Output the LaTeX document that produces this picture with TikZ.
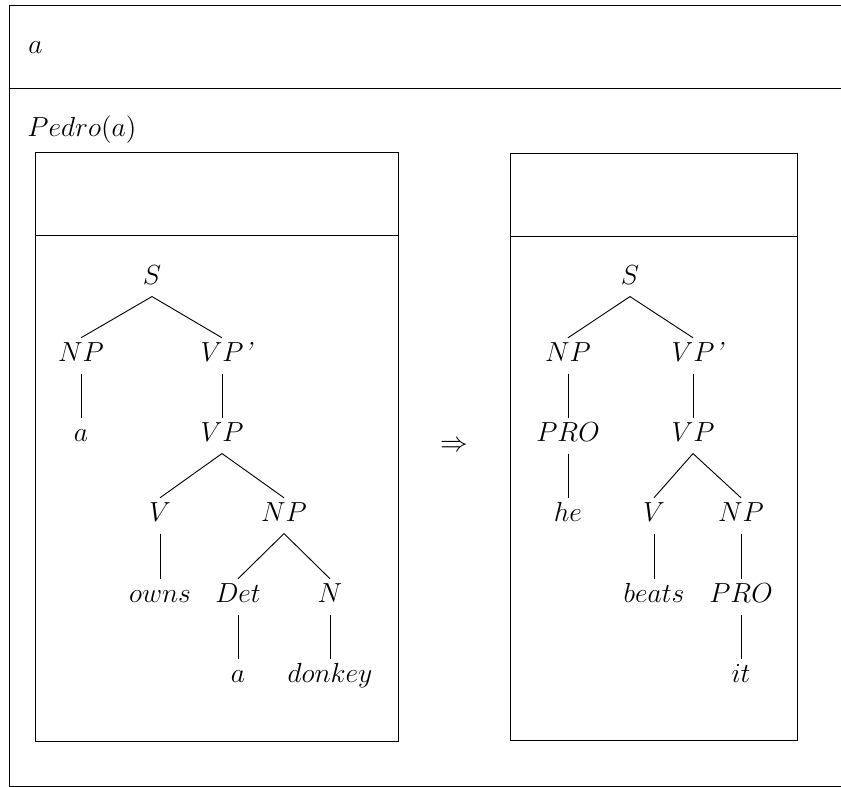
\documentclass[12pt,tikz,border=0pt]{standalone}
\usepackage{amsmath}
\usepackage{amssymb}
\usepackage{tikz}

\begin{document}
\begin{tikzpicture}[x=0.435pt,y=-0.435pt,
    tn/.style={anchor=base,inner sep=3.33pt,text height=7pt,text depth=1.5pt},
    lbl/.style={anchor=base west,inner sep=0pt}]
    \useasboundingbox (0,0) rectangle (841,787);
    % outer box, open on the right
    \draw (845,5) -- (9,5) -- (9,786) -- (845,786);
    \draw (9,88) -- (845,88);
    \node[lbl] (ref) at (28,54) {$a$};
    \node[lbl] (cond) at (27,137) {$Pedro(a)$};
    % the two inner boxes
    \draw (35,152) rectangle (398,741);
    \draw (35,235) -- (398,235);
    \draw (510,153) rectangle (797,740);
    \draw (510,236) -- (797,236);
    % left tree
    \node[tn] (ls) at (152,285) {$S$};
    \node[tn] (lnp) at (81,362) {$NP$};
    \node[tn] (lvpp) at (222,362) {$VP$\rlap{\textit{'}}};
    \node[tn] (la) at (81,442) {$a$};
    \node[tn] (lvp) at (222,442) {$VP$};
    \node[tn] (lv) at (160,522) {$V$};
    \node[tn] (lnpb) at (284,522) {$NP$};
    \node[tn] (lowns) at (160,603) {$owns$};
    \node[tn] (ldet) at (238,603) {$Det$};
    \node[tn] (ln) at (330,603) {$N$};
    \node[tn] (lab) at (238,683) {$a$};
    \node[tn] (ldonkey) at (330,683) {$donkey$};
    \foreach \a/\b in {ls/lnp,ls/lvpp,lnp/la,lvpp/lvp,lvp/lv,lvp/lnpb,lv/lowns,lnpb/ldet,lnpb/ln,ldet/lab,ln/ldonkey}
        \draw (\a.south) -- (\b.north);
    \node[anchor=base] (impl) at (454,452) {$\Rightarrow$};
    % right tree
    \node[tn] (rs) at (630,285) {$S$};
    \node[tn] (rnp) at (568,362) {$NP$};
    \node[tn] (rvpp) at (693,362) {$VP$\rlap{\textit{'}}};
    \node[tn] (rpro) at (568,442) {$PRO$};
    \node[tn] (rvp) at (693,442) {$VP$};
    \node[tn] (rhe) at (568,522) {$he$};
    \node[tn] (rv) at (654,522) {$V$};
    \node[tn] (rnpb) at (741,522) {$NP$};
    \node[tn] (rbeats) at (654,603) {$beats$};
    \node[tn] (rprob) at (741,603) {$PRO$};
    \node[tn] (rit) at (741,683) {$it$};
    \foreach \a/\b in {rs/rnp,rs/rvpp,rnp/rpro,rpro/rhe,rvpp/rvp,rvp/rv,rvp/rnpb,rv/rbeats,rnpb/rprob,rprob/rit}
        \draw (\a.south) -- (\b.north);
\end{tikzpicture}
\end{document}
